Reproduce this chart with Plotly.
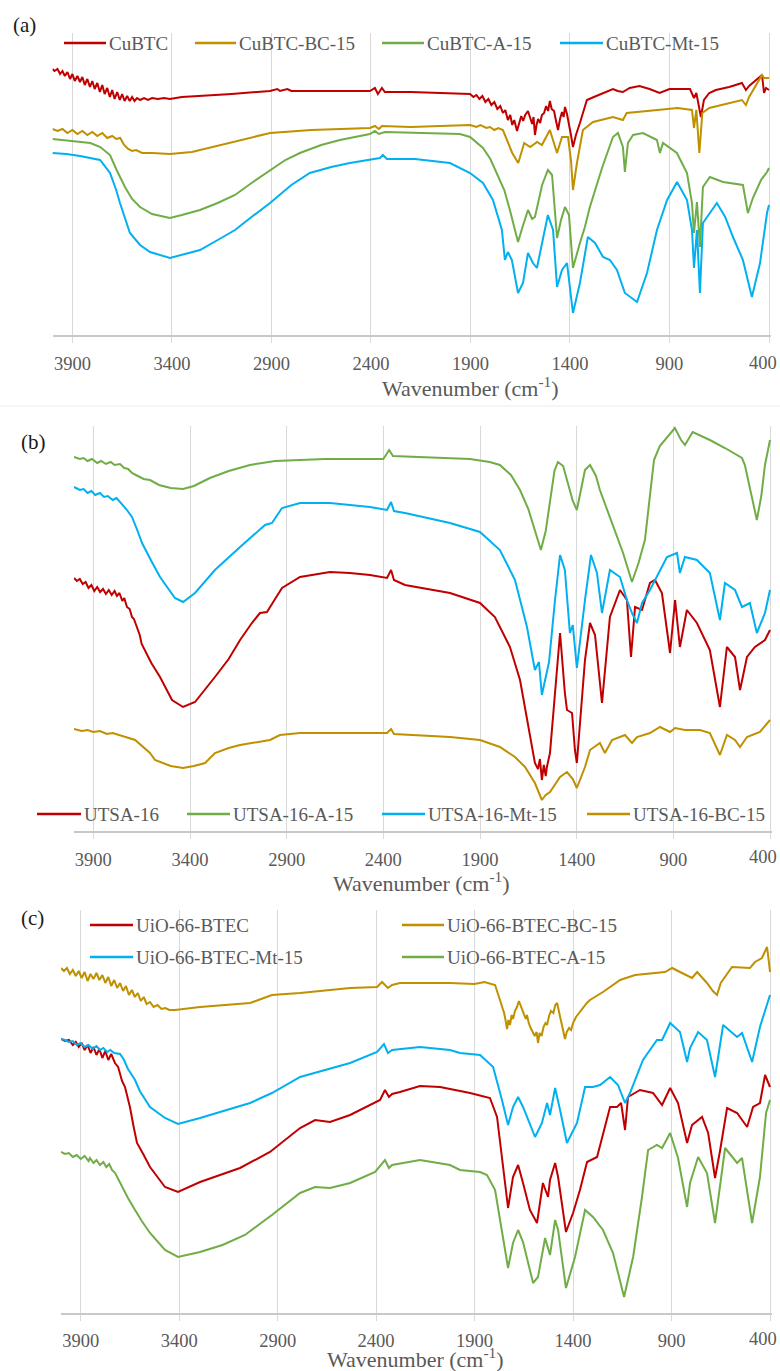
import plotly.graph_objects as go

W, H = 780, 1371

RED, GOLD, GREEN, BLUE = "#C00000", "#BF9000", "#70AD47", "#00B0F0"
TEXT = "#595959"
FONT = "Liberation Serif, serif"

# ---------------- FTIR spectra: (wavenumber cm-1, relative transmittance a.u.) ----------------
# (a) CuBTC series
cubtc = [(4000,266),(3990,264),(3975,266),(3962,261),(3950,264),(3938,259),(3925,263),(3912,256),(3900,261),
         (3888,254),(3875,259),(3862,253),(3850,258),(3838,250),(3825,256),(3812,248),(3800,254),(3788,246),
         (3775,252),(3762,243),(3750,250),(3738,241),(3725,247),(3712,238),(3700,245),(3688,236),(3675,243),
         (3662,235),(3650,241),(3638,234),(3625,239),(3612,234),(3600,238),(3588,234),(3575,237),(3560,235),
         (3540,237),(3520,235),(3500,237),(3470,236),(3440,237),(3410,236),(3350,238),(3259,239),(3100,241),
         (2907,244),(2870,246),(2857,244),(2820,246),(2800,244),(2600,244),(2405,244),(2380,247),(2365,241),
         (2345,247),(2330,243),(2200,243),(1902,241),(1885,238),(1870,240),(1855,236),(1840,239),(1825,233),
         (1810,236),(1795,230),(1780,233),(1765,226),(1750,229),(1737,222),(1725,225),(1712,215),(1700,220),
         (1690,210),(1680,215),(1666,204),(1655,212),(1645,219),(1635,214),(1625,220),(1611,224),(1600,216),
         (1590,211),(1583,218),(1576,200),(1568,210),(1560,216),(1550,212),(1541,220),(1530,222),(1520,229),
         (1510,224),(1501,234),(1492,226),(1480,224),(1470,214),(1460,205),(1450,216),(1440,223),(1432,218),
         (1425,228),(1415,221),(1405,212),(1395,200),(1385,188),(1370,200),(1350,212),(1330,226),(1315,235),
         (1280,238),(1234,242),(1184,246),(1160,244),(1134,243),(1100,247),(1051,249),(1000,246),(950,242),
         (900,246),(820,246),(797,246),(777,237),(765,242),(742,218),(727,235),(700,242),(667,245),(600,248),
         (536,252),(516,245),(500,249),(435,260),(425,242),(415,247),(400,245)]
cubtc_bc = [(4000,206),(3975,204),(3950,206),(3925,202),(3900,205),(3875,201),(3850,204),(3825,200),(3800,203),
            (3775,199),(3750,202),(3725,197),(3700,199),(3680,196),(3660,197),(3640,190),(3620,186),(3600,184),
            (3580,185),(3550,182),(3500,182),(3410,181),(3300,183),(3259,185),(3100,193),(2907,202),(2700,205),
            (2405,207),(2380,209),(2360,206),(2345,209),(2200,208),(1902,210),(1870,208),(1850,210),(1820,207),
            (1802,208),(1780,205),(1760,207),(1737,205),(1690,182),(1660,172),(1630,192),(1600,188),(1565,193),
            (1541,190),(1501,205),(1465,182),(1440,198),(1410,198),(1395,175),(1385,145),(1365,172),(1335,205),
            (1284,213),(1184,218),(1134,215),(1115,222),(960,225),(860,227),(787,225),(777,207),(765,225),
            (750,182),(735,222),(700,227),(536,235),(516,230),(500,238),(435,260),(425,257),(400,257)]
cubtc_a = [(4000,196),(3900,194),(3810,192),(3760,188),(3711,180),(3680,166),(3636,148),(3600,136),(3560,128),
           (3500,121),(3410,117),(3350,120),(3259,125),(3170,132),(3083,140),(3000,152),(2907,165),(2830,175),
           (2757,182),(2650,190),(2556,195),(2405,201),(2380,204),(2360,201),(2330,203),(1953,201),(1902,198),
           (1837,187),(1800,176),(1767,162),(1730,145),(1702,125),(1680,108),(1661,93),(1640,107),(1611,125),
           (1590,116),(1576,118),(1540,150),(1511,165),(1490,160),(1475,125),(1465,97),(1445,115),(1425,128),
           (1405,120),(1385,67),(1350,92),(1325,108),(1300,128),(1239,167),(1184,198),(1159,202),(1134,188),
           (1124,163),(1109,192),(1083,200),(1033,202),(963,195),(948,182),(933,192),(863,182),(812,162),
           (787,132),(777,102),(762,133),(747,88),(732,148),(697,158),(631,153),(531,150),(506,122),(481,137),
           (440,155),(410,163),(400,167)]
cubtc_mt = [(4000,182),(3930,181),(3862,179),(3800,177),(3761,175),(3711,162),(3680,145),(3661,132),(3611,102),
            (3560,90),(3510,83),(3410,77),(3350,80),(3259,85),(3170,95),(3083,105),(3000,118),(2907,132),
            (2800,150),(2707,162),(2600,168),(2506,172),(2355,177),(2340,180),(2320,176),(2179,176),(2003,172),
            (1902,162),(1837,152),(1787,135),(1742,105),(1727,75),(1712,83),(1692,75),(1661,42),(1636,52),
            (1611,82),(1586,72),(1566,67),(1511,120),(1485,105),(1465,48),(1440,65),(1415,72),(1385,22),
            (1350,52),(1310,98),(1274,92),(1234,78),(1199,75),(1164,65),(1124,42),(1063,33),(1013,62),(963,105),
            (912,135),(862,153),(812,135),(787,105),(777,67),(762,105),(747,42),(732,112),(662,132),(620,118),
            (581,98),(531,75),(486,38),(445,72),(410,122),(400,130)]

# (b) UTSA-16 series
utsa = [(4000,253),(3985,250),(3970,252),(3955,247),(3940,249),(3925,243),(3910,246),(3895,240),(3880,244),
        (3865,239),(3850,242),(3835,237),(3820,241),(3805,236),(3790,240),(3778,235),(3765,238),(3750,230),
        (3740,233),(3726,224),(3712,222),(3700,214),(3690,212),(3674,203),(3660,196),(3650,187),(3633,181),
        (3600,168),(3555,154),(3493,131),(3436,124),(3374,129),(3271,154),(3200,172),(3141,191),(3080,208),
        (3038,218),(3002,219),(2960,232),(2924,243),(2831,254),(2676,259),(2573,258),(2469,256),(2381,253),
        (2360,261),(2345,251),(2288,246),(2055,238),(1900,228),(1823,214),(1745,184),(1693,151),(1657,111),
        (1631,81),(1616,68),(1600,62),(1590,72),(1580,51),(1570,66),(1560,55),(1554,64),(1538,78),(1502,164),
        (1486,198),(1461,138),(1450,121),(1424,118),(1409,81),(1399,68),(1357,171),(1331,208),(1305,196),
        (1269,128),(1228,214),(1176,241),(1140,231),(1119,174),(1098,224),(1062,221),(1021,248),(995,251),
        (959,238),(917,178),(891,231),(866,184),(830,221),(778,208),(711,181),(659,124),(623,184),(581,174),
        (555,141),(519,174),(478,184),(426,191),(400,201)]
utsa_a = [(4000,374),(3970,372),(3950,373),(3930,370),(3907,372),(3880,368),(3860,370),(3835,367),(3810,369),
          (3790,366),(3762,367),(3740,363),(3720,362),(3700,358),(3680,356),(3660,354),(3640,352),(3607,351),
          (3560,346),(3500,343),(3436,342),(3380,345),(3297,353),(3200,360),(3090,366),(2960,370),(2700,372),
          (2400,372),(2370,381),(2350,375),(2100,373),(1952,372),(1850,369),(1797,366),(1740,356),(1693,341),
          (1650,322),(1616,301),(1585,281),(1560,300),(1538,331),(1515,360),(1497,369),(1470,365),(1450,351),
          (1420,330),(1399,321),(1380,340),(1357,361),(1331,366),(1300,355),(1280,341),(1240,320),(1202,301),
          (1160,278),(1114,249),(1080,268),(1047,291),(1020,335),(1000,371),(970,385),(943,391),(892,403),
          (860,391),(840,386),(800,399),(788,398),(750,395),(711,391),(633,383),(545,373),(530,366),(500,340),
          (468,311),(445,335),(426,366),(400,391)]
utsa_mt = [(4000,344),(3970,341),(3950,342),(3930,338),(3910,340),(3890,336),(3866,338),(3845,334),(3825,335),
           (3800,331),(3780,333),(3762,329),(3745,326),(3730,322),(3715,318),(3700,314),(3675,302),(3648,288),
           (3600,270),(3555,254),(3478,233),(3436,229),(3374,238),(3271,261),(3141,284),(3040,302),(3012,306),
           (2976,308),(2924,323),(2831,328),(2676,328),(2469,324),(2381,321),(2360,329),(2345,320),(2288,318),
           (2055,308),(1900,299),(1797,281),(1719,251),(1657,204),(1616,161),(1595,169),(1580,136),(1543,169),
           (1512,231),(1486,276),(1461,261),(1435,198),(1420,206),(1399,163),(1357,231),(1326,276),(1295,258),
           (1269,218),(1228,261),(1176,254),(1140,231),(1114,218),(1088,208),(1062,228),(1021,241),(969,261),
           (933,274),(881,278),(866,258),(840,274),(778,271),(711,258),(659,211),(633,248),(581,241),(545,224),
           (504,228),(468,198),(426,218),(400,241)]
utsa_bc = [(4000,102),(3960,100),(3930,101),(3900,99),(3866,100),(3830,97),(3800,98),(3762,96),(3730,94),
           (3700,92),(3684,91),(3640,84),(3607,78),(3581,71),(3500,65),(3436,63),(3380,65),(3322,68),(3271,78),
           (3200,83),(3141,86),(2986,91),(2935,96),(2831,98),(2573,98),(2381,98),(2360,102),(2345,97),(2055,94),
           (1900,91),(1797,84),(1719,74),(1667,64),(1616,48),(1580,31),(1560,36),(1538,39),(1486,54),(1450,59),
           (1420,52),(1399,43),(1357,64),(1331,81),(1280,88),(1254,78),(1217,91),(1150,96),(1114,88),(1088,94),
           (1021,98),(969,104),(917,99),(891,103),(840,101),(762,101),(711,98),(659,76),(623,96),(581,91),
           (555,84),(519,94),(452,99),(400,111)]

# (c) UiO-66-BTEC series
uio = [(4000,274),(3980,272),(3960,273),(3940,268),(3925,271),(3910,266),(3895,270),(3880,263),(3865,268),
       (3850,260),(3835,266),(3820,258),(3805,264),(3790,255),(3775,262),(3760,253),(3745,259),(3726,250),
       (3710,246),(3700,240),(3690,232),(3675,226),(3660,214),(3650,206),(3630,185),(3614,170),(3580,158),
       (3548,146),(3472,126),(3406,121),(3294,131),(3091,145),(2939,161),(2860,173),(2786,185),(2710,193),
       (2634,191),(2532,198),(2431,208),(2380,213),(2355,223),(2335,216),(2319,219),(2279,221),(2177,227),
       (2075,226),(1923,220),(1822,215),(1786,196),(1761,156),(1730,105),(1705,136),(1679,148),(1654,130),
       (1619,103),(1583,90),(1553,130),(1527,116),(1517,133),(1491,150),(1476,136),(1436,81),(1400,100),
       (1365,123),(1329,151),(1278,156),(1212,206),(1177,206),(1156,210),(1136,183),(1121,216),(1060,223),
       (994,220),(948,208),(907,225),(867,210),(821,170),(796,188),(745,196),(714,180),(679,135),(653,163),
       (618,205),(567,200),(516,186),(486,206),(451,210),(425,238),(400,226)]
uio_bc = [(4000,345),(3985,342),(3970,345),(3955,339),(3940,343),(3925,337),(3910,342),(3895,335),(3880,341),
          (3865,332),(3850,339),(3835,334),(3820,340),(3805,333),(3790,338),(3775,330),(3760,336),(3745,327),
          (3730,333),(3715,325),(3700,330),(3685,322),(3670,327),(3655,318),(3640,323),(3625,316),(3610,320),
          (3595,312),(3580,316),(3565,309),(3548,311),(3530,306),(3510,308),(3490,304),(3470,305),(3450,303),
          (3421,303),(3294,306),(3040,310),(2929,318),(2786,320),(2532,325),(2395,326),(2370,331),(2340,325),
          (2319,328),(2279,330),(2025,330),(1900,329),(1850,331),(1796,328),(1785,322),(1771,313),(1760,306),
          (1750,300),(1742,292),(1735,284),(1728,293),(1720,288),(1712,298),(1705,294),(1695,302),(1685,306),
          (1675,312),(1669,309),(1660,304),(1650,300),(1640,294),(1634,298),(1625,290),(1615,285),(1605,281),
          (1595,277),(1585,281),(1578,270),(1570,280),(1560,277),(1550,286),(1540,290),(1532,288),(1522,297),
          (1512,302),(1500,300),(1490,308),(1481,310),(1470,300),(1460,290),(1450,282),(1441,274),(1432,281),
          (1420,285),(1410,283),(1400,290),(1385,296),(1370,300),(1349,306),(1330,310),(1314,313),(1248,321),
          (1161,333),(1085,338),(933,341),(897,345),(857,341),(796,335),(770,341),(720,330),(690,322),(669,318),
          (650,330),(628,336),(593,346),(502,345),(476,351),(441,355),(415,366),(405,350),(400,341)]
uio_mt = [(4000,274),(3980,273),(3960,271),(3940,272),(3920,268),(3900,270),(3880,266),(3860,268),(3840,264),
          (3820,267),(3802,263),(3785,265),(3765,261),(3750,263),(3730,260),(3700,259),(3680,253),(3660,244),
          (3640,238),(3624,233),(3600,222),(3573,213),(3548,206),(3472,195),(3406,189),(3294,195),(3040,210),
          (2929,220),(2786,236),(2532,250),(2395,261),(2360,269),(2340,260),(2319,263),(2177,266),(2025,263),
          (1974,260),(1872,258),(1806,246),(1761,213),(1730,188),(1705,206),(1679,216),(1654,206),(1593,176),
          (1558,190),(1532,210),(1517,198),(1491,225),(1466,203),(1431,170),(1380,190),(1339,226),(1299,226),
          (1263,228),(1212,236),(1172,228),(1136,210),(1111,220),(1045,253),(974,273),(948,273),(907,290),
          (857,281),(821,251),(806,265),(765,281),(720,273),(679,236),(638,288),(567,276),(542,280),(491,251),
          (451,286),(430,300),(410,313),(400,318)]
uio_a = [(4000,161),(3980,159),(3960,160),(3940,156),(3920,158),(3900,154),(3880,157),(3860,152),(3853,155),
         (3835,150),(3820,153),(3802,148),(3785,151),(3770,146),(3755,149),(3741,143),(3725,140),(3710,134),
         (3690,126),(3660,115),(3624,103),(3590,92),(3548,80),(3472,63),(3406,56),(3294,61),(3180,68),(3066,78),
         (2929,98),(2786,120),(2710,126),(2634,125),(2532,130),(2405,141),(2355,153),(2335,145),(2319,148),
         (2177,153),(2025,148),(1974,143),(1872,141),(1837,138),(1796,123),(1761,83),(1730,45),(1705,70),
         (1679,83),(1654,71),(1603,30),(1578,36),(1542,75),(1517,58),(1491,93),(1476,83),(1436,25),(1390,56),
         (1339,103),(1299,96),(1248,83),(1197,60),(1141,16),(1095,56),(1050,116),(1019,163),(974,168),
         (948,165),(907,180),(867,155),(821,106),(806,130),(765,156),(720,140),(679,90),(628,165),(567,150),
         (542,155),(491,90),(451,136),(420,200),(400,213)]

# major ticks carry the labels; the last one sits on the plot edge and is labelled separately
X_TICKS = [3900, 3400, 2900, 2400, 1900, 1400, 900]
X_EDGE = 400

# ---------------- layout of the three stacked panels (pixel geometry) ----------------
panels = [
    dict(tag="(a)", tag_xy=(25, 25), left=52.5, right=769, top=33, bottom=335, title_x=470, title_y=387,
         tick_y=363,
         series=[("CuBTC", cubtc, RED), ("CuBTC-BC-15", cubtc_bc, GOLD),
                 ("CuBTC-A-15", cubtc_a, GREEN), ("CuBTC-Mt-15", cubtc_mt, BLUE)],
         legend=[(64, 106, 43), (195, 236, 43), (382, 424, 43), (560, 603, 43)]),
    dict(tag="(b)", tag_xy=(33, 442), left=74, right=770, top=426, bottom=831, title_x=421, title_y=882,
         tick_y=857,
         series=[("UTSA-16", utsa, RED), ("UTSA-16-A-15", utsa_a, GREEN),
                 ("UTSA-16-Mt-15", utsa_mt, BLUE), ("UTSA-16-BC-15", utsa_bc, GOLD)],
         legend=[(37, 81, 814), (187, 230, 814), (382, 425, 814), (587, 630, 814)]),
    dict(tag="(c)", tag_xy=(32, 918), left=61, right=770, top=910, bottom=1313, title_x=415, title_y=1358,
         tick_y=1339,
         series=[("UiO-66-BTEC", uio, RED), ("UiO-66-BTEC-BC-15", uio_bc, GOLD),
                 ("UiO-66-BTEC-Mt-15", uio_mt, BLUE), ("UiO-66-BTEC-A-15", uio_a, GREEN)],
         legend=[(90, 133, 925), (402, 444, 925), (90, 133, 957), (402, 444, 957)]),
]

fig = go.Figure()
shapes, annotations = [], []
layout = {}

def fx(x):
    return x / W

def fy(y):
    return 1 - y / H

for i, p in enumerate(panels):
    suffix = "" if i == 0 else str(i + 1)
    xname, yname = "x" + suffix, "y" + suffix
    # extend the range a little past 400 so the 400 gridline is drawn at the edge
    per_wn = (p["right"] - p["left"]) / 3600.0
    right_ext = p["right"] + 10 * per_wn
    span = p["bottom"] - p["top"]

    for name, pts, color in p["series"]:
        wn = [a for a, _ in pts]
        tr = [b for _, b in pts]
        fig.add_trace(go.Scatter(x=wn, y=tr, mode="lines", name=name, showlegend=False,
                                 line=dict(color=color, width=2), xaxis=xname, yaxis=yname,
                                 hoverinfo="skip"))

    layout["xaxis" + suffix] = dict(
        domain=[fx(p["left"]), fx(right_ext)], range=[4000, 390], anchor=yname,
        tickmode="array", tickvals=X_TICKS, ticktext=[str(v) for v in X_TICKS],
        showgrid=True, gridcolor="#D9D9D9", gridwidth=1, zeroline=False,
        showline=True, linecolor="#C8C8C8", linewidth=2,
        ticks="outside", ticklen=6, tickcolor="#D9D9D9", tickwidth=1,
        tickfont=dict(family=FONT, size=18.5, color=TEXT),
        ticklabelstandoff=5 if i < 2 else 4,
        minor=dict(tickmode="array", tickvals=[X_EDGE], showgrid=True, gridcolor="#D9D9D9",
                   gridwidth=1, ticks="outside", ticklen=6, tickcolor="#D9D9D9", tickwidth=1),
        fixedrange=True)
    layout["yaxis" + suffix] = dict(
        domain=[fy(p["bottom"]), fy(p["top"])], range=[0, span], anchor=xname,
        visible=False, fixedrange=True)

    # label of the edge tick, kept inside the page
    annotations.append(dict(text=str(X_EDGE), x=fx(779), y=fy(p["tick_y"]), xref="paper", yref="paper",
                            xanchor="right", yanchor="middle", showarrow=False,
                            font=dict(family=FONT, size=18.5, color=TEXT)))
    annotations.append(dict(text=p["tag"], x=fx(p["tag_xy"][0]), y=fy(p["tag_xy"][1]),
                            xref="paper", yref="paper", xanchor="center", yanchor="middle",
                            showarrow=False, font=dict(family=FONT, size=21, color="#1A1A1A")))
    annotations.append(dict(text="Wavenumber (cm<sup>-1</sup>)", x=fx(p["title_x"]), y=fy(p["title_y"]),
                            xref="paper", yref="paper", xanchor="center", yanchor="middle",
                            showarrow=False, font=dict(family=FONT, size=22, color=TEXT)))

    for (name, _, color), (lx0, lx1, ly) in zip(p["series"], p["legend"]):
        shapes.append(dict(type="line", xref="paper", yref="paper",
                           x0=fx(lx0), x1=fx(lx1), y0=fy(ly), y1=fy(ly),
                           line=dict(color=color, width=2.5)))
        annotations.append(dict(text=name, x=fx(lx1 + 1), y=fy(ly), xref="paper", yref="paper",
                                xanchor="left", yanchor="middle", showarrow=False,
                                font=dict(family=FONT, size=19, color=TEXT)))

# faint divider between panels (a) and (b)
shapes.append(dict(type="line", xref="paper", yref="paper", x0=0, x1=1, y0=fy(406), y1=fy(406),
                   line=dict(color="#ECECEC", width=1)))

fig.update_layout(
    width=W, height=H, autosize=False,
    margin=dict(l=0, r=0, t=0, b=0, pad=0),
    paper_bgcolor="white", plot_bgcolor="white",
    showlegend=False, hovermode=False,
    shapes=shapes, annotations=annotations,
    **layout,
)

fig.write_html("out.html", config={"displayModeBar": False})
